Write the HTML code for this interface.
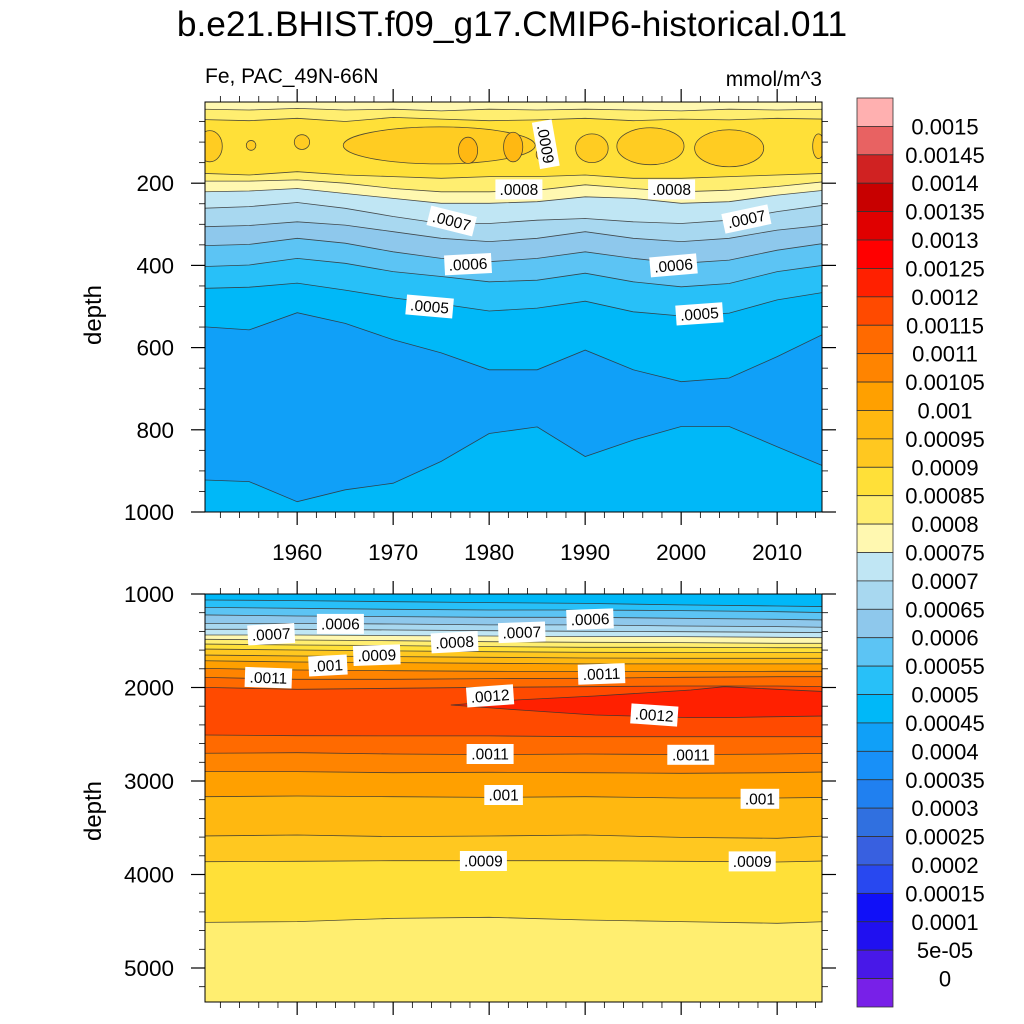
<!DOCTYPE html>
<html><head><meta charset="utf-8"><style>
html,body{margin:0;padding:0;background:#fff;}
svg{display:block;font-family:"Liberation Sans",sans-serif;}
</style></head><body>
<svg id="chart" width="1024" height="1024" viewBox="0 0 1024 1024" xmlns="http://www.w3.org/2000/svg">
<text x="512" y="36" font-size="35.3" text-anchor="middle">b.e21.BHIST.f09_g17.CMIP6-historical.011</text>
<text x="205" y="83" font-size="21">Fe, PAC_49N-66N</text>
<text x="822" y="86" font-size="21" text-anchor="end">mmol/m^3</text>
<text transform="translate(101,315) rotate(-90)" font-size="24" text-anchor="middle">depth</text>
<text transform="translate(101,811) rotate(-90)" font-size="24" text-anchor="middle">depth</text>
<g id="gTop"></g>
<g id="gBot"></g>
<g id="gBar"></g>
</svg>
<script>
// ---- data ----
const yearsTop = [1950,1955,1960,1965,1970,1975,1980,1985,1990,1995,2000,2005,2010,2015];
const top_L080s = [20,22,18,22,20,24,20,22,20,22,24,20,22,20];
const top_L085s = [45,48,42,50,40,44,48,46,42,48,44,46,42,44];
const top_L085 = [176,180,172,180,184,188,184,184,180,188,188,184,180,176];
const top_L080 = [195,195,192,200,213,221,221,217,204,213,221,217,208,196];
const top_L075 = [221,219,213,225,237,249,249,245,233,237,249,245,229,217];
const top_L070 = [261,257,247,261,281,298,298,290,286,294,298,290,269,253];
const top_L065 = [306,303,294,302,318,334,342,334,318,334,342,334,314,302];
const top_L060 = [352,349,334,346,367,383,391,383,367,383,395,387,363,346];
const top_L055 = [403,399,383,395,415,427,440,436,419,440,452,444,415,399];
const top_L050 = [456,453,443,460,479,494,511,504,487,513,523,516,484,465];
const top_L045a = [549,557,515,541,581,613,654,654,606,654,683,674,622,565];
const top_L045b = [922,926,975,946,930,877,809,793,865,825,792,792,841,890];
const blobYear = [1950.9,1974.8,1990.7,1996.8,2005.0,2014.3,1960.5,1955.2];
const blobDepth = [110,108,115,110,115,110,100,108];
const blobHalfW = [1.3,10,1.7,3.5,3.6,0.6,0.8,0.5];
const blobHalfD = [38,45,35,45,45,30,18,12];
const darkBlobYear = [1977.8,1982.5,1985.5];
const darkBlobDepth = [120,112,130];
const darkBlobHalfW = [1.0,1.0,0.6];
const darkBlobHalfD = [32,36,15];

const yearsBot = [1950,1960,1970,1980,1990,2000,2010,2015];
const bot_L0500 = [1064,1071,1082,1092,1100,1117,1128,1135];
const bot_L0550 = [1142,1153,1164,1171,1171,1178,1189,1199];
const bot_L0600 = [1224,1235,1242,1249,1249,1260,1271,1278];
const bot_L0650 = [1314,1314,1321,1331,1331,1342,1349,1356];
const bot_L0700 = [1378,1378,1385,1392,1399,1403,1410,1413];
const bot_L0750 = [1438,1438,1445,1449,1456,1456,1463,1467];
const bot_L0800 = [1485,1492,1499,1510,1517,1520,1527,1527];
const bot_L0850 = [1535,1545,1552,1563,1570,1570,1574,1574];
const bot_L0900 = [1588,1599,1609,1617,1624,1627,1627,1627];
const bot_L0950 = [1652,1663,1670,1677,1684,1688,1688,1688];
const bot_L1000 = [1713,1727,1734,1741,1748,1748,1748,1748];
const bot_L1050 = [1795,1813,1820,1827,1830,1830,1827,1827];
const bot_L1100 = [1891,1912,1912,1905,1902,1891,1884,1884];
const bot_L1150 = [1998,2019,2009,1998,1991,1984,1984,1991];
const bot_L1150b = [2508,2515,2518,2518,2526,2526,2526,2526];
const bot_L1100b = [2704,2697,2711,2718,2711,2718,2711,2704];
const bot_L1050b = [2900,2900,2911,2907,2911,2918,2911,2904];
const bot_L1000b = [3168,3160,3168,3175,3168,3182,3182,3175];
const bot_L0950b = [3588,3578,3595,3588,3578,3603,3613,3588];
const bot_L0900b = [3863,3859,3852,3852,3852,3859,3866,3856];
const bot_L0850b = [4512,4504,4469,4458,4487,4504,4522,4504];
const wedgeYears = [1976,1983,1991,2001,2004.5,2010,2015];
const wedgeUpper = [2187,2133,2091,2027,1991,2019,2044];
const wedgeLower = [2187,2240,2294,2322,2322,2312,2305];

const barLabels = ["0.0015","0.00145","0.0014","0.00135","0.0013","0.00125","0.0012","0.00115","0.0011","0.00105","0.001","0.00095","0.0009","0.00085","0.0008","0.00075","0.0007","0.00065","0.0006","0.00055","0.0005","0.00045","0.0004","0.00035","0.0003","0.00025","0.0002","0.00015","0.0001","5e-05","0"];
const barColors = ["#FFB0B0","#E86262","#D02222","#C80000","#E00000","#FF0000","#FF2000","#FF4A00","#FF6A00","#FF8400","#FFA000","#FFB810","#FFC820","#FFE038","#FFEE70","#FFF8B0","#C0E6F4","#A8D8F0","#8EC8EC","#5CC4F4","#28C0F8","#00B8F8","#10A0F8","#1890F8","#2080F0","#3070E0","#3860E0","#2848F0","#1010F8","#2010F0","#4818E8","#7820E8"];
const yearTicks = [1960,1970,1980,1990,2000,2010];
const topDepthTicks = [200,400,600,800,1000];
const botDepthTicks = [1000,2000,3000,4000,5000];

const topLabYear = [1985.9,1983.1,1999.0,1976.1,2006.8,1977.8,1999.2,1973.8,2001.9];
const topLabDepth = [105,215,215,292,287,397,400,500,518];
const topLabText = [".0009",".0008",".0008",".0007",".0007",".0006",".0006",".0005",".0005"];
const topLabRot = [80,0,0,14,-12,-3,-5,5,-4];
const botLabYear = [1964.5,1990.5,1957.3,1983.4,1976.4,1968.3,1963.2,1957.0,1991.7,1980.1,1997.2,1980.1,2001.0,1981.5,2008.2,1979.4,2007.4];
const botLabDepth = [1320,1270,1430,1410,1515,1655,1765,1895,1855,2090,2294,2711,2720,3150,3190,3856,3860];
const botLabText = [".0006",".0006",".0007",".0007",".0008",".0009",".001",".0011",".0011",".0012",".0012",".0011",".0011",".001",".001",".0009",".0009"];
const botLabRot = [0,-2,-3,-2,-3,-2,-3,2,-2,-4,4,0,0,0,0,0,0];

// ---- scales ----
const NS = "http://www.w3.org/2000/svg";
const X0 = 205, X1 = 822;
function xS(yr){ return X0 + (yr - 1950.4) * 9.6; }
function yTop(d){ return 101 + d * 0.411; }
function yBot(d){ return 594 + (d - 1000) * 0.0935; }
const TOPY0 = 102, TOPY1 = 512, BOTY0 = 594, BOTY1 = 1002;

function el(tag, attrs, parent){
  const e = document.createElementNS(NS, tag);
  for (const k in attrs) e.setAttribute(k, attrs[k]);
  parent.appendChild(e);
  return e;
}
function linePts(years, vals, ys){
  return years.map((yr,i)=> xS(yr).toFixed(1)+","+ys(vals[i]).toFixed(1));
}
function bandBelow(g, years, vals, ys, bottom, color, name){
  const pts = linePts(years, vals, ys);
  const poly = pts.concat([xS(years[years.length-1]).toFixed(1)+","+bottom, xS(years[0]).toFixed(1)+","+bottom]);
  const p = el("polygon", {points: poly.join(" "), fill: color, stroke: "none"}, g);
  
  
  const l = el("polyline", {points: pts.join(" "), fill: "none", stroke: "#333", "stroke-width": "0.8", "stroke-opacity": "0.85"}, g);
  
  
}
function blob(g, yr, d, hw, hd, ys, color, name){
  const e = el("ellipse", {cx: xS(yr), cy: ys(d), rx: hw*9.6, ry: hd*0.411, fill: color, stroke: "#333", "stroke-width": "0.8", "stroke-opacity": "0.85"}, g);
  
  
}
function label(g, x, y, txt, rot, name){
  const grp = el("g", {transform: "translate("+x.toFixed(1)+","+y.toFixed(1)+") rotate("+rot+")"}, g);
  
  
  const w = txt.length * 8.4 + 5;
  el("rect", {x: -w/2, y: -10, width: w, height: 20, fill: "#fff"}, grp);
  const t = el("text", {x: 0, y: 5.5, "font-size": "15.5", "text-anchor": "middle"}, grp);
  t.textContent = txt;
}
function axes(g, y0, y1, ys, dTicks, dMinorStep, dMin, dMax, showYearLabels, prefix){
  const fr = el("rect", {x: X0, y: y0, width: X1-X0, height: y1-y0, fill: "none", stroke: "#000", "stroke-width": "1"}, g);
  
  
  for (let yr = 1952; yr <= 2014; yr += 2){
    const major = yr % 10 === 0;
    const x = xS(yr), len = major ? 13 : 6;
    const tb = el("line", {x1: x, x2: x, y1: y1, y2: y1+len, stroke: "#000", "stroke-width": major?1.2:0.8}, g);
    
    
    const tt = el("line", {x1: x, x2: x, y1: y0, y2: y0-len, stroke: "#000", "stroke-width": major?1.2:0.8}, g);
    
    
  }
  if (showYearLabels){
    yearTicks.forEach(yr=>{
      const t = el("text", {x: xS(yr), y: y1+48, "font-size": "22.5", "text-anchor": "middle"}, g);
      
      
      t.textContent = yr;
    });
  }
  for (let d = dMin; d <= dMax; d += dMinorStep){
    const y = ys(d);
    if (y < y0-0.5 || y > y1+0.5) continue;
    const major = dTicks.indexOf(d) >= 0;
    const len = major ? 14 : 6;
    const tl = el("line", {x1: X0-len, x2: X0, y1: y, y2: y, stroke: "#000", "stroke-width": major?1.2:0.8}, g);
    
    
    const tr = el("line", {x1: X1, x2: X1+len, y1: y, y2: y, stroke: "#000", "stroke-width": major?1.2:0.8}, g);
    
    
  }
  dTicks.forEach(d=>{
    const t = el("text", {x: 174, y: ys(d)+8, "font-size": "22.5", "text-anchor": "end"}, g);
    
    
    t.textContent = d;
  });
}

// ---- top panel ----
const gT = document.getElementById("gTop");
const cpT = el("clipPath", {id: "clipT"}, gT);
el("rect", {x: X0, y: TOPY0, width: X1-X0, height: TOPY1-TOPY0}, cpT);
const cT = el("g", {"clip-path": "url(#clipT)"}, gT);
const bgT = el("rect", {x: X0, y: TOPY0, width: X1-X0, height: TOPY1-TOPY0, fill: "#FFF8B0"}, cT);


const topLines = [top_L080s, top_L085s, top_L085, top_L080, top_L075, top_L070, top_L065, top_L060, top_L055, top_L050, top_L045a, top_L045b];
const topColors = ["#FFEE70","#FFE038","#FFEE70","#FFF8B0","#C0E6F4","#A8D8F0","#8EC8EC","#5CC4F4","#28C0F8","#00B8F8","#10A0F8","#00B8F8"];
topLines.forEach((ln,i)=> bandBelow(cT, yearsTop, ln, yTop, TOPY1+5, topColors[i], 'top-level-'+i));
blobYear.forEach((yr,i)=> blob(cT, yr, blobDepth[i], blobHalfW[i], blobHalfD[i], yTop, "#FFCC22", 'top-patch'));
darkBlobYear.forEach((yr,i)=> blob(cT, yr, darkBlobDepth[i], darkBlobHalfW[i], darkBlobHalfD[i], yTop, "#FFB812", 'top-dark-patch'));
axes(gT, TOPY0, TOPY1, yTop, topDepthTicks, 50, 0, 1000, true, 'top');
topLabText.forEach((t,i)=> label(gT, xS(topLabYear[i]), yTop(topLabDepth[i]), t, topLabRot[i], 'top-contour-label'));

// ---- bottom panel ----
const gB = document.getElementById("gBot");
const cp = el("clipPath", {id: "clipB"}, gB);
el("rect", {x: X0, y: BOTY0, width: X1-X0, height: BOTY1-BOTY0}, cp);
const cB = el("g", {"clip-path": "url(#clipB)"}, gB);
const bgB = el("rect", {x: X0, y: BOTY0, width: X1-X0, height: BOTY1-BOTY0, fill: "#00B8F8"}, cB);


const botLinesA = [bot_L0500,bot_L0550,bot_L0600,bot_L0650,bot_L0700,bot_L0750,bot_L0800,bot_L0850,bot_L0900,bot_L0950,bot_L1000,bot_L1050,bot_L1100,bot_L1150];
const botColorsA = ["#28C0F8","#5CC4F4","#8EC8EC","#A8D8F0","#C0E6F4","#FFF8B0","#FFEE70","#FFE038","#FFC820","#FFB810","#FFA000","#FF8400","#FF6A00","#FF4A00"];
botLinesA.forEach((ln,i)=> bandBelow(cB, yearsBot, ln, yBot, BOTY1+5, botColorsA[i], 'bottom-upper-level-'+i));
const wpts = linePts(wedgeYears, wedgeUpper, yBot).concat(linePts(wedgeYears, wedgeLower, yBot).reverse());
const wedge = el("polygon", {points: wpts.join(" "), fill: "#FF2000", stroke: "#333", "stroke-width": "0.8", "stroke-opacity": "0.85"}, cB);


const botLinesB = [bot_L1150b,bot_L1100b,bot_L1050b,bot_L1000b,bot_L0950b,bot_L0900b,bot_L0850b];
const botColorsB = ["#FF6A00","#FF8400","#FFA000","#FFB810","#FFC820","#FFE038","#FFEE70"];
botLinesB.forEach((ln,i)=> bandBelow(cB, yearsBot, ln, yBot, BOTY1+5, botColorsB[i], 'bottom-lower-level-'+i));
axes(gB, BOTY0, BOTY1, yBot, botDepthTicks, 200, 1000, 5400, false, 'bottom');
botLabText.forEach((t,i)=> label(gB, xS(botLabYear[i]), yBot(botLabDepth[i]), t, botLabRot[i], 'bottom-contour-label'));

// ---- colorbar ----
const gC = document.getElementById("gBar");
const BX = 857, BW = 36, BY0 = 98, BY1 = 1007, BH = (BY1-BY0)/barColors.length;
barColors.forEach((c,i)=>{
  const r = el("rect", {x: BX, y: BY0 + i*BH, width: BW, height: BH, fill: c, stroke: "#333", "stroke-width": "0.8"}, gC);
  
  
});
barLabels.forEach((t,i)=>{
  const tx = el("text", {x: 945, y: BY0 + (i+1)*BH + 8, "font-size": "22", "text-anchor": "middle"}, gC);
  
  
  tx.textContent = t;
});
</script>
</body></html>
